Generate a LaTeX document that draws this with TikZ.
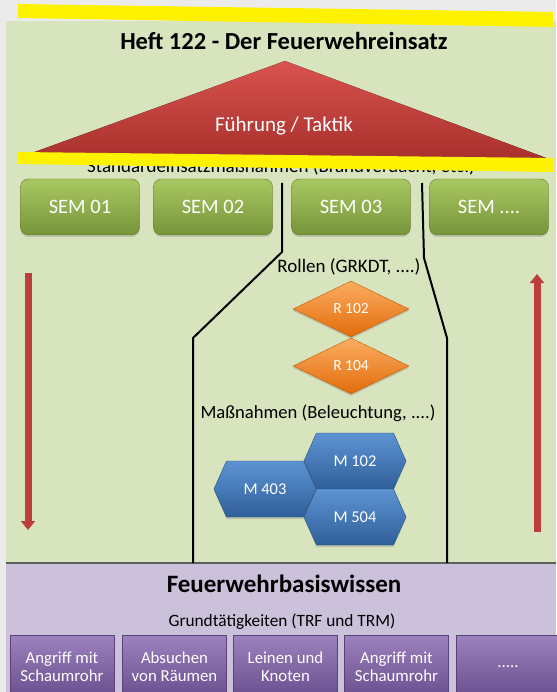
\documentclass[tikz,border=0pt]{standalone}
\usepackage{fontspec}
\setmainfont{Carlito}
\usetikzlibrary{calc, shapes.geometric, shapes.symbols, arrows.meta, shadows}

\definecolor{grundgrau}{HTML}{EBEBEB}
\definecolor{feldgruen}{HTML}{D7E4BD}
\definecolor{feldlila}{HTML}{CCC1DA}
\definecolor{lilarand}{HTML}{5F5F5F}
\definecolor{dachhell}{HTML}{D9534F}
\definecolor{dachdunkel}{HTML}{A8302C}
\definecolor{semhell}{HTML}{A9C862}
\definecolor{semdunkel}{HTML}{77943A}
\definecolor{rollehell}{HTML}{FBAE62}
\definecolor{rolledunkel}{HTML}{E26B0A}
\definecolor{massnhell}{HTML}{5E93D3}
\definecolor{massndunkel}{HTML}{2F5F9A}
\definecolor{basishell}{HTML}{9C82BE}
\definecolor{basisdunkel}{HTML}{6A4E8E}
\definecolor{pfeilrot}{HTML}{BD3F3B}

\tikzset{
  schatten/.style={drop shadow={opacity=0.3, shadow xshift=0pt, shadow yshift=-2pt}},
  semkasten/.style={rectangle, rounded corners=8pt, minimum width=119pt, minimum height=56pt,
    top color=semhell, bottom color=semdunkel, draw=semdunkel!80!black, line width=0.4pt,
    schatten, text=white, font=\fontsize{20.5}{22}\selectfont},
  rolle/.style={diamond, inner sep=0pt, minimum width=116pt, minimum height=56pt,
    top color=rollehell, bottom color=rolledunkel, draw=rolledunkel!85!black, line width=0.4pt,
    schatten, text=white, font=\fontsize{15.5}{17}\selectfont},
  massnahme/.style={signal, signal to=east and west, signal pointer angle=132, inner sep=0pt,
    minimum width=102pt, minimum height=56pt,
    top color=massnhell, bottom color=massndunkel, draw=massndunkel!85!black, line width=0.4pt,
    schatten, text=white, font=\fontsize{16.5}{18}\selectfont},
  basiskasten/.style={rectangle, minimum width=104pt, minimum height=63pt, align=center,
    top color=basishell, bottom color=basisdunkel, draw=basisdunkel!85!black, line width=0.4pt,
    text=white, font=\fontsize{16.8}{18.5}\selectfont},
  trennlinie/.style={line width=2pt, black},
  pfeil/.style={line width=7pt, pfeilrot, -{Triangle[width=14pt,length=9pt]}},
  gelb/.style={fill=yellow}
}

\begin{document}
\begin{tikzpicture}[x=1pt,y=-1pt]
\useasboundingbox (0,0) rectangle (556,692);
\fill[grundgrau] (0,0) rectangle (556,692);
\fill[feldgruen] (6,21) rectangle (556,563);
\fill[feldlila] (6,563) rectangle (556,692);
\draw[line width=1.5pt, lilarand] (6,563) -- (556,563);

\node[anchor=base, font=\bfseries\fontsize{24.5}{28}\selectfont] (titel) at (284,50) {Heft 122 - Der Feuerwehreinsatz};
\coordinate (A) at (285,61);
\coordinate (B) at (21,157);
\coordinate (C) at (549,159);
\fill[top color=dachhell, bottom color=dachdunkel] (A) -- (B) -- (C) -- cycle;
\node[text=white, font=\fontsize{21}{24}\selectfont] (fuehrung) at (284,126) {Führung / Taktik};
\node[anchor=base, font=\fontsize{19}{21}\selectfont] (standard) at (281,173) {Standardeinsatzmaßnahmen (Brandverdacht, etc.)};

\fill[gelb] (18,4) -- (553,12) -- (553,27) -- (18,18) -- cycle;
\fill[gelb] (18,152) -- (553,158) -- (553,172) -- (18,164) -- cycle;

\foreach \x/\t/\n in {80/{SEM 01}/sema, 213/{SEM 02}/semb, 351/{SEM 03}/semc, 489/{SEM ....}/semd}
  \node[semkasten] (\n) at (\x,207) {\t};

\coordinate (L1) at (282,183);
\coordinate (L2) at (282,252);
\coordinate (L3) at (193,338);
\coordinate (L4) at (193,563);
\coordinate (R1) at (422,183);
\coordinate (R2) at (424,258);
\coordinate (R3) at (447,338);
\coordinate (R4) at (447,563);
\draw[trennlinie] (L1) -- (L2) -- (L3) -- (L4);
\draw[trennlinie] (R1) -- (R2) -- (R3) -- (R4);

\node[font=\fontsize{19}{21}\selectfont] (rollen) at (349,267) {Rollen (GRKDT, ....)};
\node[rolle] (r102) at (351,309) {R 102};
\node[rolle] (r104) at (351,366) {R 104};

\node[font=\fontsize{18.6}{21}\selectfont] (massn) at (318,413) {Maßnahmen (Beleuchtung, ....)};
\node[massnahme] (m403) at (265,489) {M 403};
\node[massnahme] (m102) at (355,461) {M 102};
\node[massnahme] (m504) at (355,517) {M 504};

\coordinate (P1) at (28,273);
\coordinate (P2) at (28,530);
\coordinate (Q1) at (537,532);
\coordinate (Q2) at (537,274);
\draw[pfeil] (P1) -- (P2);
\draw[pfeil] (Q1) -- (Q2);

\node[font=\bfseries\fontsize{25}{28}\selectfont] (basis) at (284,584) {Feuerwehrbasiswissen};
\node[font=\fontsize{17.3}{20}\selectfont] (grund) at (282,622) {Grundtätigkeiten (TRF und TRM)};
\foreach \x/\t/\n in {62/{Angriff mit\\Schaumrohr}/ga, 174.5/{Absuchen\\von Räumen}/gb,
    285.5/{Leinen und\\Knoten}/gc, 396.5/{Angriff mit\\Schaumrohr}/gd, 508/{.....}/ge}
  \node[basiskasten] (\n) at (\x,666.5) {\t};
\end{tikzpicture}
\end{document}
